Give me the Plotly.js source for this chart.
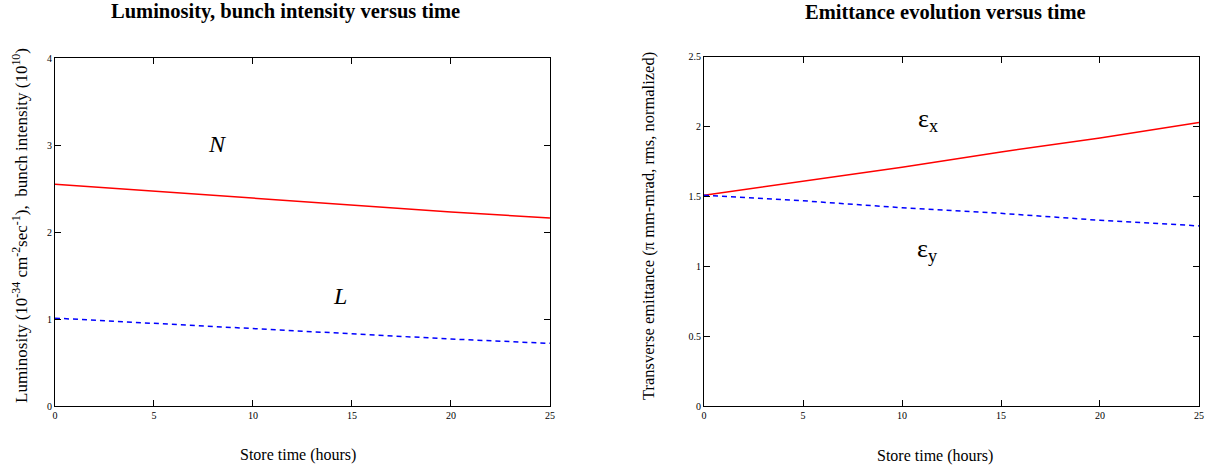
<!DOCTYPE html>
<html><head><meta charset="utf-8">
<script src="https://cdn.plot.ly/plotly-3.0.1.min.js"></script>
<style>html,body{margin:0;padding:0;background:#fff}</style>
</head><body>
<div id="chart" style="width:1217px;height:467px"></div>
<script>
const storeTime = [0, 5, 10, 15, 20, 25];
const bunchIntensityN = [2.55, 2.47, 2.39, 2.31, 2.23, 2.16];
const luminosityL = [1.01, 0.95, 0.89, 0.83, 0.77, 0.72];
const emittanceX = [1.51, 1.61, 1.71, 1.82, 1.92, 2.03];
const emittanceY = [1.51, 1.47, 1.42, 1.38, 1.33, 1.29];

const serif = '"Liberation Serif", "Times New Roman", serif';
const red = {color: '#ff0000', width: 1.5};
const blue = {color: '#0000ff', width: 1.5, dash: '5px,4px'};

const traces = [
  {x: storeTime, y: bunchIntensityN, mode: 'lines', line: red, xaxis: 'x', yaxis: 'y', name: 'N'},
  {x: storeTime, y: luminosityL, mode: 'lines', line: blue, xaxis: 'x', yaxis: 'y', name: 'L'},
  {x: storeTime, y: emittanceX, mode: 'lines', line: red, xaxis: 'x2', yaxis: 'y2', name: 'εx'},
  {x: storeTime, y: emittanceY, mode: 'lines', line: blue, xaxis: 'x2', yaxis: 'y2', name: 'εy'}
];

const axBase = {
  showgrid: false, zeroline: false, showline: true, linecolor: '#000', linewidth: 1,
  mirror: 'ticks', ticks: 'inside', ticklen: 6, tickcolor: '#000', tickwidth: 1,
  tickfont: {family: serif, size: 10, color: '#000'}, fixedrange: true
};

function paperText(text, px, py, size, angle) {
  return {text: text, xref: 'paper', yref: 'paper', x: px / 1217, y: 1 - py / 467,
          xanchor: 'center', yanchor: 'middle', textangle: angle || 0, showarrow: false,
          font: {family: serif, size: size, color: '#000'}};
}

const layout = {
  width: 1217, height: 467,
  margin: {l: 0, r: 0, t: 0, b: 0},
  paper_bgcolor: '#fff', plot_bgcolor: '#fff',
  showlegend: false,
  xaxis: Object.assign({}, axBase, {domain: [0.0452, 0.4519], range: [0, 25], tickvals: [0,5,10,15,20,25], anchor: 'y'}),
  yaxis: Object.assign({}, axBase, {domain: [0.1306, 0.8758], range: [0, 4], tickvals: [0,1,2,3,4], anchor: 'x'}),
  xaxis2: Object.assign({}, axBase, {domain: [0.5785, 0.9852], range: [0, 25], tickvals: [0,5,10,15,20,25], anchor: 'y2'}),
  yaxis2: Object.assign({}, axBase, {domain: [0.1306, 0.8780], range: [0, 2.5], tickvals: [0,0.5,1,1.5,2,2.5], anchor: 'x2'}),
  annotations: [
    paperText('<b>Luminosity, bunch intensity versus time</b>', 285, 12, 20.5),
    paperText('<b>Emittance evolution versus time</b>', 945, 12, 20.5),
    paperText('Store time (hours)', 298, 455, 16),
    paperText('Store time (hours)', 935, 456, 16),
    paperText('Luminosity (10<sup>-34</sup> cm<sup>-2</sup>sec<sup>-1</sup>),  bunch intensity (10<sup>10</sup>)', 20, 226, 17, -90),
    paperText('Transverse emittance (π mm-mrad, rms, normalized)', 648, 226, 16.5, -90),
    {text: '<i>N</i>', xref: 'x', yref: 'y', x: 8.2, y: 3.01, showarrow: false, font: {family: serif, size: 24, color: '#000'}},
    {text: '<i>L</i>', xref: 'x', yref: 'y', x: 14.4, y: 1.26, showarrow: false, font: {family: serif, size: 24, color: '#000'}},
    {text: 'ε<sub>x</sub>', xref: 'x2', yref: 'y2', x: 11.3, y: 2.05, showarrow: false, font: {family: serif, size: 26, color: '#000'}},
    {text: 'ε<sub>y</sub>', xref: 'x2', yref: 'y2', x: 11.3, y: 1.12, showarrow: false, font: {family: serif, size: 26, color: '#000'}}
  ]
};

Plotly.newPlot('chart', traces, layout, {displayModeBar: false, staticPlot: true});
</script>
</body></html>
